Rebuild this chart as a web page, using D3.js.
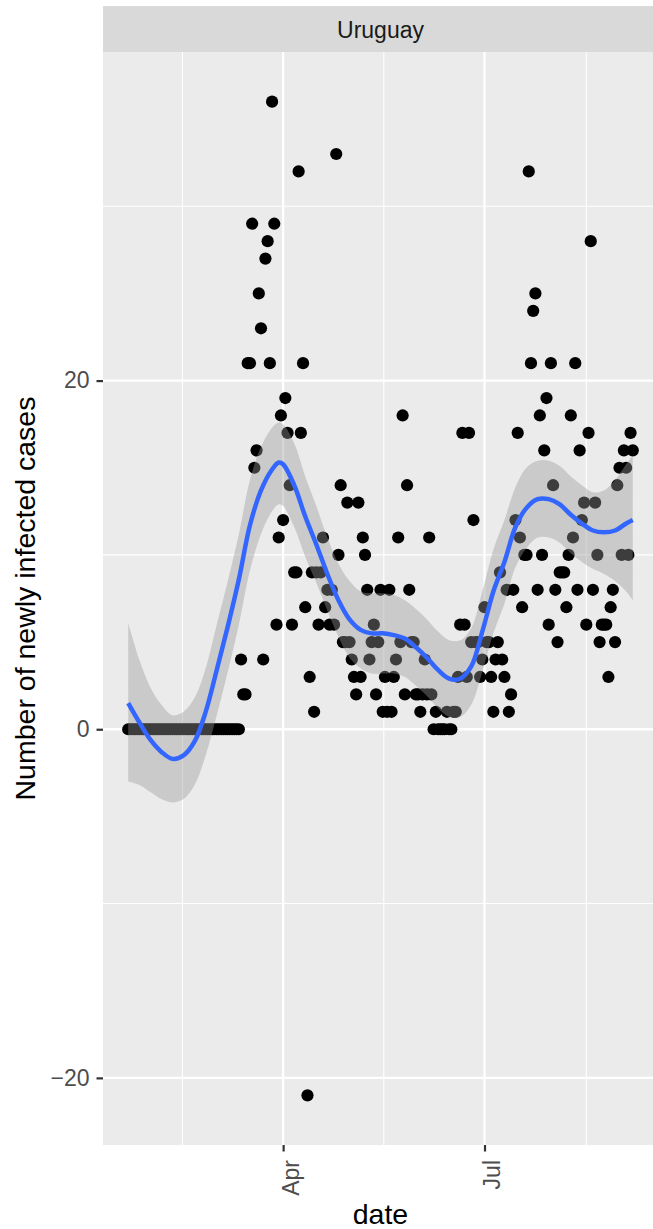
<!DOCTYPE html>
<html>
<head>
<meta charset="utf-8">
<script src="https://cdn.jsdelivr.net/npm/d3@7"></script>
<style>
  body { margin: 0; background: #fff; }
  text { font-family: "Liberation Sans", Arial, Helvetica, sans-serif; }
</style>
</head>
<body>
<div id="chart"></div>
<script>
// daily new cases, Uruguay, starting 2020-01-22
var startDate = "2020-01-22";
var newCases = [
  0,0,0,0,0,0,0,0,0,0, 0,0,0,0,0,0,0,0,0,0,
  0,0,0,0,0,0,0,0,0,0, 0,0,0,0,0,0,0,0,0,0,
  0,0,0,0,0,0,0,0,0,0, 0,
  4,2,2,21,21,29,15,16,25,23,4,27,28,21,36,29,6,11,18,
  12,19,17,14,6,9,9,32,17,21,7,-21,3,9,1,9,6,9,11,7,
  8,6,8,6,33,10,14,5,5,13,5,4,3,2,13,3,11,10,8,4,
  5,6,2,5,8,1,3,1,8,1,3,4,11,5,18,2,14,8,5,5,
  2,2,1,2,4,2,11,2,0,1,0,0,0,0,1,0,0,1,1,3,
  6,17,6,3,17,5,12,5,5,3,4,7,5,5,3,1,4,5,9,4,
  3,8,1,2,8,12,17,11,7,10,10,32,21,24,25,8,18,10,16,19,
  6,21,14,8,5,9,9,9,7,10,18,11,21,8,16,12,13,6,17,28,
  8,13,10,5,6,6,6,3,7,8,5,14,15,10,16,15,10,17,16
];

// smoother (days since start)
var smoothDays = [0,5,10,15,20,25,30,35,40,45,50,55,60,65,68,70,75,80,85,90,95,100,105,110,115,120,125,130,135,140,145,150,155,160,165,170,175,180,185,190,195,200,205,210,215,220,225,228];
var smoothFit  = [1.5,0.4,-0.6,-1.3,-1.7,-1.5,-0.7,1.0,3.4,5.9,8.6,11.7,13.7,14.9,15.3,15.2,14.0,12.2,10.6,8.9,7.4,6.3,5.7,5.5,5.5,5.4,5.2,4.7,4.1,3.4,2.9,2.9,3.6,5.6,7.9,9.6,11.6,12.7,13.2,13.2,12.9,12.3,11.8,11.4,11.3,11.4,11.8,12.0];
var smoothLo   = [-3.0,-3.2,-3.6,-4.0,-4.2,-4.0,-3.2,-1.5,0.8,3.3,6.0,9.1,11.2,12.5,12.9,12.8,11.6,9.9,8.4,6.8,5.3,4.1,3.5,3.2,3.2,3.2,3.0,2.5,1.9,1.2,0.7,0.7,1.4,3.3,5.5,7.2,9.3,10.4,11.0,11.0,10.7,10.1,9.6,9.2,8.9,8.5,7.9,7.4];
var smoothHi   = [6.1,4.0,2.4,1.4,0.8,1.0,1.8,3.5,6.0,8.5,11.2,14.3,16.2,17.3,17.6,17.5,16.4,14.5,12.8,11.0,9.5,8.5,7.9,7.8,7.8,7.7,7.4,6.9,6.3,5.6,5.1,5.1,5.8,7.9,10.3,12.0,13.9,15.0,15.4,15.4,15.1,14.5,14.0,13.6,13.7,14.3,15.2,15.7];

var yTicks = [-20, 0, 20];
var yMinor = [-10, 10, 30];
var xTicks = ["2020-04-01", "2020-07-01"];
var xTickLabels = ["Apr", "Jul"];
var xMinor = ["2020-02-15T12:00:00Z", "2020-05-16T12:00:00Z", "2020-08-16T00:00:00Z"];

var svgWidth = 653, svgHeight = 1229;
var panel = { left: 103, right: 658, top: 52, bottom: 1145 };

var start = new Date(startDate + "T00:00:00Z");
var dayToDate = function(i) { return d3.utcDay.offset(start, i); };
var data = newCases.map(function(v, i) { return { date: dayToDate(i), value: v }; });
var smooth = smoothDays.map(function(d, i) {
  return { date: dayToDate(d), fit: smoothFit[i], lo: smoothLo[i], hi: smoothHi[i] };
});

var xExt = d3.extent(data, function(d) { return d.date; });
var xPad = (xExt[1] - xExt[0]) * 0.05;
var xScale = d3.scaleUtc()
  .domain([new Date(+xExt[0] - xPad), new Date(+xExt[1] + xPad)])
  .range([panel.left, panel.right]);

var yExt = d3.extent(newCases);
var yPad = (yExt[1] - yExt[0]) * 0.05;
var yScale = d3.scaleLinear()
  .domain([yExt[0] - yPad, yExt[1] + yPad])
  .range([panel.bottom, panel.top]);

var svg = d3.select("#chart").append("svg")
  .attr("width", svgWidth)
  .attr("height", svgHeight);

svg.append("defs").append("clipPath").attr("id", "clip")
  .append("rect")
  .attr("x", panel.left).attr("y", panel.top)
  .attr("width", panel.right - panel.left)
  .attr("height", panel.bottom - panel.top);

// strip
svg.append("rect")
  .attr("x", panel.left).attr("y", 6)
  .attr("width", panel.right - panel.left).attr("height", panel.top - 6)
  .attr("fill", "#D9D9D9");
svg.append("text")
  .attr("x", (panel.left + panel.right) / 2).attr("y", 37.5)
  .attr("text-anchor", "middle")
  .attr("font-size", 23).attr("fill", "#1A1A1A")
  .text("Uruguay");

// panel background
svg.append("rect")
  .attr("x", panel.left).attr("y", panel.top)
  .attr("width", panel.right - panel.left).attr("height", panel.bottom - panel.top)
  .attr("fill", "#EBEBEB");

var grid = svg.append("g").attr("clip-path", "url(#clip)");
grid.selectAll(".ymin").data(yMinor).enter().append("line")
  .attr("x1", panel.left).attr("x2", panel.right)
  .attr("y1", d => yScale(d)).attr("y2", d => yScale(d))
  .attr("stroke", "#fff").attr("stroke-width", 1.1);
grid.selectAll(".xmin").data(xMinor).enter().append("line")
  .attr("x1", d => xScale(new Date(d))).attr("x2", d => xScale(new Date(d)))
  .attr("y1", panel.top).attr("y2", panel.bottom)
  .attr("stroke", "#fff").attr("stroke-width", 1.1);
grid.selectAll(".ymaj").data(yTicks).enter().append("line")
  .attr("x1", panel.left).attr("x2", panel.right)
  .attr("y1", d => yScale(d)).attr("y2", d => yScale(d))
  .attr("stroke", "#fff").attr("stroke-width", 2.3);
grid.selectAll(".xmaj").data(xTicks).enter().append("line")
  .attr("x1", d => xScale(new Date(d + "T00:00:00Z"))).attr("x2", d => xScale(new Date(d + "T00:00:00Z")))
  .attr("y1", panel.top).attr("y2", panel.bottom)
  .attr("stroke", "#fff").attr("stroke-width", 2.3);

var plot = svg.append("g").attr("clip-path", "url(#clip)");

// points
plot.selectAll("circle").data(data).enter().append("circle")
  .attr("cx", d => xScale(d.date))
  .attr("cy", d => yScale(d.value))
  .attr("r", 6.1)
  .attr("fill", "#000");

// confidence band
var area = d3.area()
  .x(d => xScale(d.date))
  .y0(d => yScale(d.lo))
  .y1(d => yScale(d.hi))
  .curve(d3.curveCatmullRom);
plot.append("path").datum(smooth)
  .attr("d", area)
  .attr("fill", "#999999").attr("fill-opacity", 0.4);

var line = d3.line()
  .x(d => xScale(d.date))
  .y(d => yScale(d.fit))
  .curve(d3.curveCatmullRom);
plot.append("path").datum(smooth)
  .attr("d", line)
  .attr("fill", "none").attr("stroke", "#3366FF").attr("stroke-width", 4.5);

// y axis
var yAxis = d3.axisLeft(yScale)
  .tickValues(yTicks)
  .tickSize(6.5)
  .tickPadding(7)
  .tickFormat(d => d < 0 ? "\u2212" + Math.abs(d) : d);
var gy = svg.append("g").attr("transform", `translate(${panel.left},0)`).call(yAxis);
gy.select(".domain").remove();
gy.selectAll(".tick line").attr("stroke", "#333333").attr("stroke-width", 2.2);
gy.selectAll(".tick text").attr("font-size", 23).attr("fill", "#4D4D4D")
  .attr("font-family", "Liberation Sans, Arial, sans-serif");

// x axis
var xAxis = d3.axisBottom(xScale)
  .tickValues(xTicks.map(d => new Date(d + "T00:00:00Z")))
  .tickSize(6.5)
  .tickFormat((d, i) => xTickLabels[i]);
var gx = svg.append("g").attr("transform", `translate(0,${panel.bottom})`).call(xAxis);
gx.select(".domain").remove();
gx.selectAll(".tick line").attr("stroke", "#333333").attr("stroke-width", 2.2);
gx.selectAll(".tick text")
  .attr("font-size", 23).attr("fill", "#4D4D4D")
  .attr("font-family", "Liberation Sans, Arial, sans-serif")
  .attr("text-anchor", "end")
  .attr("dy", null)
  .attr("y", null)
  .attr("transform", "translate(15,15) rotate(-90)");

// axis titles
svg.append("text")
  .attr("x", (panel.left + panel.right) / 2).attr("y", 1224)
  .attr("text-anchor", "middle").attr("font-size", 28.5).attr("fill", "#000")
  .text("date");
svg.append("text")
  .attr("transform", `translate(35,${(panel.top + panel.bottom) / 2}) rotate(-90)`)
  .attr("text-anchor", "middle").attr("font-size", 28.5).attr("fill", "#000")
  .text("Number of newly infected cases");
</script>
</body>
</html>
